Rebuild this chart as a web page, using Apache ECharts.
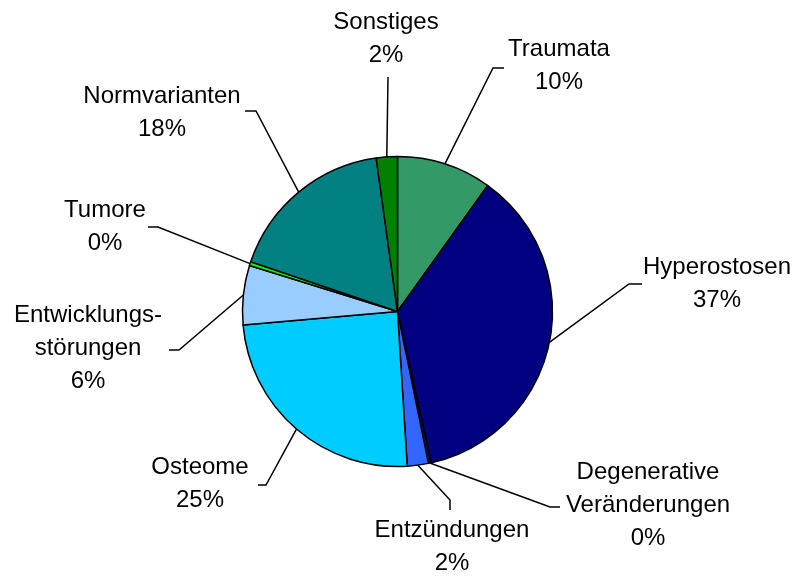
<!DOCTYPE html>
<html><head><meta charset="utf-8">
<script src="https://cdn.jsdelivr.net/npm/echarts@6/dist/echarts.min.js"></script>
<style>html,body{margin:0;padding:0;background:#fff}#c{width:798px;height:577px}</style>
</head><body><div id="c"></div>
<script>
// Data
const categories = ['Traumata', 'Hyperostosen', 'Degenerative\nVeränderungen', 'Entzündungen', 'Osteome', 'Entwicklungs-\nstörungen', 'Tumore', 'Normvarianten', 'Sonstiges'];
const values = [9.9, 36.6, 0.3, 2.2, 24.6, 6.2, 0.4, 17.6, 2.2];

// Styles / layout (not data)
const colors = ['#339966', '#000080', '#10106a', '#3366FF', '#00CCFF', '#99CCFF', '#00FF00', '#008080', '#008000'];
const labelCenters = [[559, 66], [717, 284], [648, 505], [452, 547], [200, 484], [88, 348], [105, 227], [162, 113], [386, 39]];
const lineElbows = [[493, 68], [629, 284], [550, 507], [450, 500], [266, 485], [179, 350], [158, 227], [256, 111], [388, 77]];
const lineEnds = [[504, 68], [642, 284], [560, 507], [450, 510], [258, 485], [169, 350], [148, 227], [245, 111], [388, 77]];

const chart = echarts.init(document.getElementById('c'), null, {renderer: 'canvas'});
chart.setOption({
  animation: false,
  backgroundColor: '#ffffff',
  series: [{
    type: 'pie',
    center: [397.5, 311.5],
    radius: [0, 155],
    startAngle: 90,
    clockwise: true,
    avoidLabelOverlap: false,
    percentPrecision: 0,
    itemStyle: {borderColor: '#000', borderWidth: 1.5},
    emphasis: {scale: false},
    label: {
      show: true,
      position: 'outside',
      formatter: '{b}\n{d}%',
      fontFamily: 'Liberation Sans, Arial, sans-serif',
      fontSize: 24,
      lineHeight: 33,
      color: '#000'
    },
    labelLine: {show: true, length: 20, length2: 10, lineStyle: {color: '#000', width: 1.5}},
    labelLayout: function (p) {
      const i = p.dataIndex;
      const start = p.labelLinePoints ? p.labelLinePoints[0] : lineElbows[i];
      return {
        x: labelCenters[i][0],
        y: labelCenters[i][1],
        align: 'center',
        verticalAlign: 'middle',
        labelLinePoints: [start, lineElbows[i], lineEnds[i]]
      };
    },
    data: categories.map((c, i) => ({name: c, value: values[i], itemStyle: {color: colors[i]}}))
  }]
});
</script></body></html>
